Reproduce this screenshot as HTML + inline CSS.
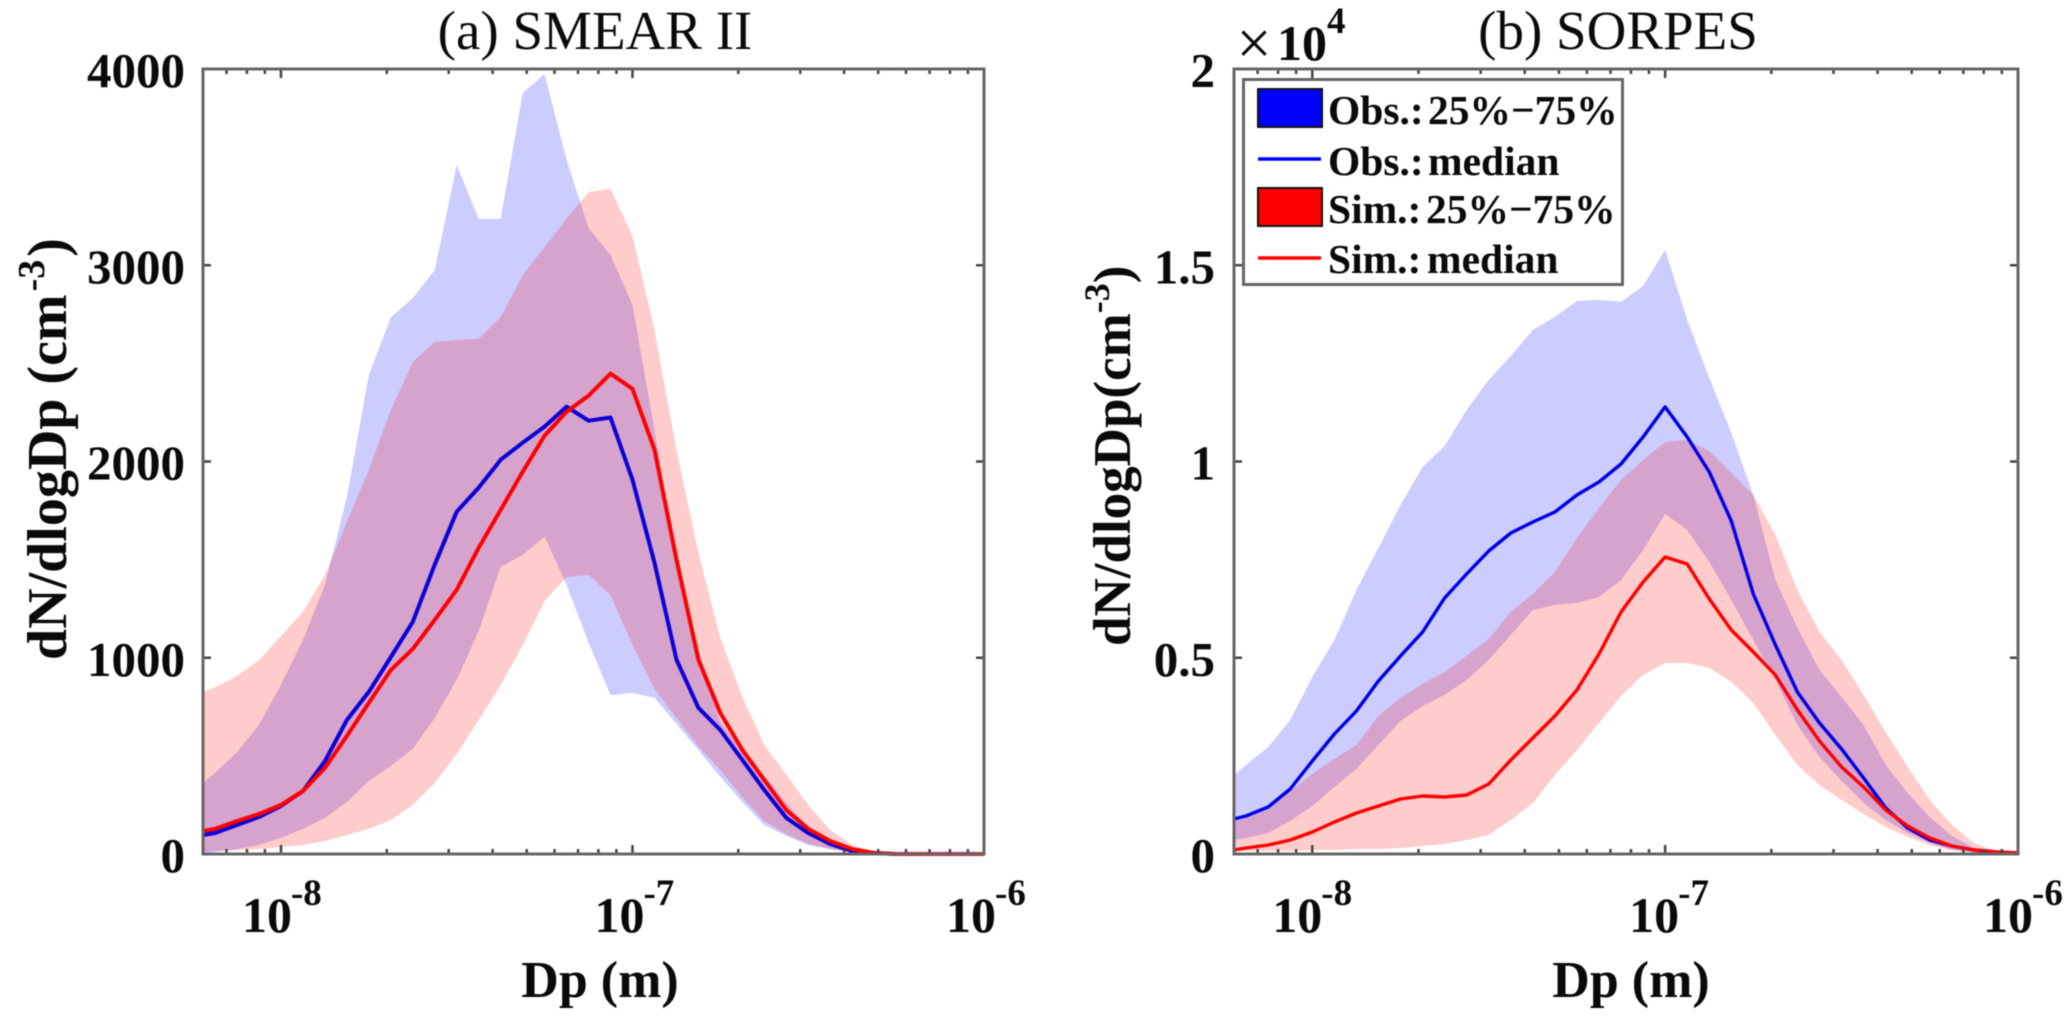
<!DOCTYPE html>
<html>
<head>
<meta charset="utf-8">
<title>Aerosol size distributions: SMEAR II and SORPES</title>
<style>
html,body{margin:0;padding:0;background:#fff;width:2067px;height:1018px;overflow:hidden}
svg{display:block;filter:blur(0.5px)}
text{font-family:"Liberation Serif",serif;fill:#0a0a0a}
.b{font-weight:bold}
</style>
</head>
<body>
<svg id="chart" xmlns="http://www.w3.org/2000/svg" width="2067" height="1018" viewBox="0 0 2067 1018">
  <rect x="0" y="0" width="2067" height="1018" fill="#fff"/>
  <g id="panelA"></g>
  <g id="panelB"></g>

  <text x="595" y="49" font-size="55" text-anchor="middle">(a) SMEAR II</text>
  <text x="1618" y="49" font-size="55" text-anchor="middle">(b) SORPES</text>

  <text class="b" x="600" y="997" font-size="52" text-anchor="middle">Dp (m)</text>
  <text class="b" x="1631" y="997" font-size="52" text-anchor="middle">Dp (m)</text>

  <text class="b" transform="translate(66,660) rotate(-90)" font-size="56">dN/dlogDp (cm<tspan font-size="38" dx="3" dy="-22">-3</tspan><tspan dx="3" dy="22">)</tspan></text>
  <text class="b" transform="translate(1130,646) rotate(-90)" font-size="53">dN/dlogDp(cm<tspan font-size="36" dy="-21">-3</tspan><tspan dy="21">)</tspan></text>

  <g>
    <text x="1254" y="64" font-size="62" text-anchor="middle">×</text>
    <text class="b" x="1277" y="60" font-size="50">10</text>
    <text class="b" x="1327" y="33" font-size="37">4</text>
  </g>

  <g>
    <rect x="1243.5" y="79.5" width="379" height="205" fill="#fff" stroke="#666" stroke-width="3"/>
    <rect x="1258" y="89" width="64" height="38" fill="#0000ff" stroke="#111" stroke-width="2"/>
    <line x1="1258" x2="1321" y1="159" y2="159" stroke="#0000ff" stroke-width="3.5"/>
    <rect x="1258" y="188" width="64" height="38" fill="#ff0000" stroke="#111" stroke-width="2"/>
    <line x1="1258" x2="1321" y1="258" y2="258" stroke="#ff0000" stroke-width="3.5"/>
    <g class="b" font-size="41.5" font-weight="bold">
      <text x="1328" y="124" font-weight="bold">Obs.:</text>
      <text x="1428" y="124" font-weight="bold">25%−75%</text>
      <text x="1328" y="175" font-weight="bold">Obs.:</text>
      <text x="1428" y="175" font-weight="bold">median</text>
      <text x="1328" y="223" font-weight="bold">Sim.:</text>
      <text x="1426" y="223" font-weight="bold">25%−75%</text>
      <text x="1328" y="273" font-weight="bold">Sim.:</text>
      <text x="1427" y="273" font-weight="bold">median</text>
    </g>
  </g>
</svg>

<script>
// Shared particle-diameter bins (nm)
var diameters = [6,6.49,7.5,8.66,10,11.55,13.34,15.4,17.78,20.54,23.71,27.38,31.62,36.52,42.17,48.7,56.23,64.94,74.99,86.6,100,115.5,133.4,154,177.8,205.4,237.1,273.8,316.2,365.2,421.7,487,562.3,649.4,749.9,866,1000];

// Panel (a) SMEAR II, cm-3
var obsUpperA = [362,413,520,658,862,1091,1371,1819,2440,2736,2833,2976,3511,3236,3236,3878,3974,3536,3190,3052,2798,2160,1472,1039,672,529,397,260,142,71,25,5,0,0,0,0,0];
var obsLowerA = [5,10,25,46,82,128,184,265,372,449,535,693,887,1137,1463,1525,1617,1371,1076,810,821,795,663,530,393,265,148,92,46,25,10,0,0,0,0,0,0];
var simUpperA = [826,851,907,989,1111,1234,1422,1692,1957,2263,2507,2609,2619,2625,2736,2950,3093,3236,3373,3389,3149,2670,2059,1534,1101,800,555,403,250,122,46,10,0,0,0,0,0];
var simLowerA = [10,15,20,25,36,46,66,97,128,173,250,362,510,683,861,1065,1289,1411,1422,1320,1065,841,693,550,428,290,168,102,51,25,10,0,0,0,0,0,0];
var obsMedianA = [97,107,148,189,245,321,474,683,826,1004,1183,1474,1744,1867,2009,2096,2178,2279,2208,2224,1907,1484,990,745,632,479,326,184,107,51,15,5,0,0,0,0,0];
var simMedianA = [117,128,168,204,250,321,439,602,770,938,1045,1193,1346,1561,1754,1948,2132,2254,2336,2448,2370,2060,1499,990,719,530,377,224,128,66,25,5,0,0,0,0,0];

// Panel (b) SORPES, cm-3
var obsUpperB = [2013,2268,2726,3414,4510,5453,6727,7797,8893,9861,10396,11313,12078,12689,13352,13683,14090,14116,14065,14473,15390,13606,12128,10727,9147,6982,5758,4688,4000,3287,2268,1554,943,459,153,51,25];
var obsLowerB = [357,408,535,841,1223,1707,2166,2777,3389,3771,4051,4434,4943,5580,6217,6345,6395,6548,6982,7746,8663,8256,7440,6472,5453,4434,3287,2472,1860,1299,866,535,280,102,25,25,25];
var simUpperB = [815,917,1121,1605,2038,2421,2777,3516,3975,4332,4637,5045,5478,6166,6625,7185,8052,8816,9530,10039,10498,10549,10268,9708,9147,8128,6727,5657,4943,4051,3109,2217,1376,739,280,76,25];
var simLowerB = [76,76,76,76,102,102,127,127,153,204,255,357,484,866,1299,2013,2650,3338,4026,4561,4867,4867,4739,4383,3848,3032,2268,1758,1376,1019,688,433,229,102,51,25,25];
var obsMedianB = [892,968,1198,1656,2370,3058,3644,4408,5045,5657,6523,7134,7720,8179,8459,8714,9147,9479,9937,10625,11390,10625,9733,8485,6625,5325,4128,3338,2675,1936,1172,662,357,204,102,51,25];
var simMedianB = [102,153,229,357,561,815,1045,1223,1401,1478,1452,1503,1784,2395,2956,3516,4179,5096,6166,6931,7568,7389,6497,5708,5147,4561,3669,2879,2217,1707,1121,713,408,204,102,51,25];

// Axis ticks
var xMajorTicks = [10,100,1000];
var xMajorExponents = ["-8","-7","-6"];
var xMinorTicks = [7,8,9,20,30,40,50,60,70,80,90,200,300,400,500,600,700,800,900];
var yTicksA = [0,1000,2000,3000,4000];
var yTickLabelsA = ["0","1000","2000","3000","4000"];
var yTicksB = [0,5000,10000,15000,20000];
var yTickLabelsB = ["0","0.5","1","1.5","2"];

var NS = "http://www.w3.org/2000/svg";
var X_MIN = 6, X_MAX = 1000;
var TOP = 69, BOTTOM = 854;

function makeXScale(left, right) {
  return function (d) {
    return left + (Math.log10(d) - Math.log10(X_MIN)) / (Math.log10(X_MAX) - Math.log10(X_MIN)) * (right - left);
  };
}
function makeYScale(maxValue) {
  return function (v) {
    return BOTTOM - v / maxValue * (BOTTOM - TOP);
  };
}
function pointsFrom(xs, ys, sx, sy) {
  return xs.map(function (d, i) { return sx(d).toFixed(1) + "," + sy(ys[i]).toFixed(1); }).join(" ");
}
function bandPoints(xs, upper, lower, sx, sy) {
  var top = xs.map(function (d, i) { return sx(d).toFixed(1) + "," + sy(upper[i]).toFixed(1); });
  var bottom = xs.map(function (d, i) { return sx(d).toFixed(1) + "," + sy(lower[i]).toFixed(1); }).reverse();
  return top.concat(bottom).join(" ");
}
function drawBand(g, upper, lower, color, sx, sy, label) {
  var el = document.createElementNS(NS, "polygon");
  
  
  el.setAttribute("points", bandPoints(diameters, upper, lower, sx, sy));
  el.setAttribute("fill", color);
  el.setAttribute("fill-opacity", "0.2");
  g.appendChild(el);
}
function drawLine(g, values, color, width, sx, sy, label) {
  var el = document.createElementNS(NS, "polyline");
  
  
  el.setAttribute("points", pointsFrom(diameters, values, sx, sy));
  el.setAttribute("fill", "none");
  el.setAttribute("stroke", color);
  el.setAttribute("stroke-width", width);
  el.setAttribute("stroke-linejoin", "round");
  g.appendChild(el);
}
function drawTick(g, x1, y1, x2, y2, w) {
  var el = document.createElementNS(NS, "line");
  
  
  el.setAttribute("x1", x1);
  el.setAttribute("y1", y1);
  el.setAttribute("x2", x2);
  el.setAttribute("y2", y2);
  el.setAttribute("stroke", "#444");
  el.setAttribute("stroke-width", w);
  g.appendChild(el);
}
function drawAxes(g, left, right, sx, sy, yTicks, yLabels, labelRight, xLabelOffset) {
  xMinorTicks.forEach(function (d) {
    drawTick(g, sx(d), BOTTOM, sx(d), BOTTOM - 5, 2.5);
    drawTick(g, sx(d), TOP, sx(d), TOP + 5, 2.5);
  });
  xMajorTicks.forEach(function (d, i) {
    var x = sx(d);
    drawTick(g, x, BOTTOM, x, BOTTOM - 9, 2.5);
    drawTick(g, x, TOP, x, TOP + 9, 2.5);
    var tx = document.createElementNS(NS, "text");
    
    
    tx.setAttribute("x", x + xLabelOffset[i]);
    tx.setAttribute("y", 932);
    tx.setAttribute("font-size", "50");
    tx.setAttribute("font-weight", "bold");
    tx.textContent = "10";
    g.appendChild(tx);
    var sup = document.createElementNS(NS, "text");
    
    
    sup.setAttribute("x", x + xLabelOffset[i] + 49);
    sup.setAttribute("y", 905);
    sup.setAttribute("font-size", "37");
    sup.setAttribute("font-weight", "bold");
    sup.textContent = xMajorExponents[i];
    g.appendChild(sup);
  });
  yTicks.forEach(function (v, i) {
    var y = sy(v);
    drawTick(g, left, y, left + 8, y, 2.5);
    drawTick(g, right, y, right - 8, y, 2.5);
    var t = document.createElementNS(NS, "text");
    
    
    t.setAttribute("x", labelRight);
    t.setAttribute("y", y + 18);
    t.setAttribute("font-size", "49");
    t.setAttribute("font-weight", "bold");
    t.setAttribute("text-anchor", "end");
    t.textContent = yLabels[i];
    g.appendChild(t);
  });
  var box = document.createElementNS(NS, "rect");
  
  
  box.setAttribute("x", left);
  box.setAttribute("y", TOP);
  box.setAttribute("width", right - left);
  box.setAttribute("height", BOTTOM - TOP);
  box.setAttribute("fill", "none");
  box.setAttribute("stroke", "#666");
  box.setAttribute("stroke-width", "3");
  g.appendChild(box);
}

// Panel (a)
var gA = document.getElementById("panelA");
var sxA = makeXScale(203, 984);
var syA = makeYScale(4000);
drawBand(gA, obsUpperA, obsLowerA, "#0000ff", sxA, syA, "obs-iqr-band-a");
drawBand(gA, simUpperA, simLowerA, "#ff0000", sxA, syA, "sim-iqr-band-a");
drawLine(gA, obsMedianA, "#0a00d8", 4, sxA, syA, "obs-median-line-a");
drawLine(gA, simMedianA, "#ff0000", 4, sxA, syA, "sim-median-line-a");
drawAxes(gA, 203, 984, sxA, syA, yTicksA, yTickLabelsA, 185, [-39, -38, -38]);

// Panel (b)
var gB = document.getElementById("panelB");
var sxB = makeXScale(1234, 2018);
var syB = makeYScale(20000);
drawBand(gB, obsUpperB, obsLowerB, "#0000ff", sxB, syB, "obs-iqr-band-b");
drawBand(gB, simUpperB, simLowerB, "#ff0000", sxB, syB, "sim-iqr-band-b");
drawLine(gB, obsMedianB, "#0000e6", 3.4, sxB, syB, "obs-median-line-b");
drawLine(gB, simMedianB, "#ff0000", 3.4, sxB, syB, "sim-median-line-b");
drawAxes(gB, 1234, 2018, sxB, syB, yTicksB, yTickLabelsB, 1215, [-40, -36, -35]);
</script>
</body>
</html>
